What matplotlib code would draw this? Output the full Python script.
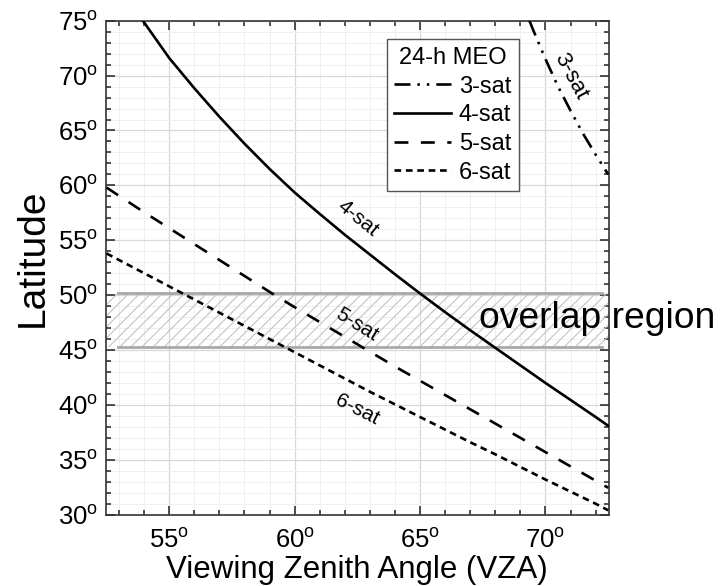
import matplotlib
matplotlib.use("Agg")
import matplotlib.pyplot as plt
from matplotlib.ticker import MultipleLocator, FixedLocator, FixedFormatter

plt.rcParams['font.family'] = ['Liberation Sans', 'DejaVu Sans']
plt.rcParams['mathtext.fontset'] = 'custom'
plt.rcParams['mathtext.rm'] = 'Liberation Sans'
plt.rcParams['lines.scale_dashes'] = False
plt.rcParams['hatch.linewidth'] = 0.8

# ---- data ----
vza_3sat = [69.36, 69.5, 70.0, 70.5, 71.0, 71.5, 72.0, 72.5]
lat_3sat = [75.0, 74.2, 71.5, 69.0, 66.8, 64.7, 62.8, 61.0]

vza_4sat = [53.95, 55, 56, 57, 58, 59, 60, 61, 62, 63, 64, 65, 66, 67, 68, 69, 70, 71, 72, 72.5]
lat_4sat = [75.0, 71.6, 68.85, 66.25, 63.8, 61.5, 59.35, 57.4, 55.5, 53.7, 51.9, 50.15,
            48.45, 46.8, 45.2, 43.6, 42.0, 40.45, 38.9, 38.1]

vza_5sat = [52.5, 53, 54, 55, 56, 57, 58, 59, 60, 61, 62, 63, 64, 65, 66, 67, 68, 69, 70, 71, 72, 72.5]
lat_5sat = [59.8, 59.05, 57.55, 56.1, 54.65, 53.2, 51.75, 50.3, 48.9, 47.55, 46.2, 44.85,
            43.5, 42.2, 40.9, 39.6, 38.3, 37.0, 35.7, 34.4, 33.1, 32.45]

vza_6sat = [52.5, 53, 54, 55, 56, 57, 58, 59, 60, 61, 62, 63, 64, 65, 66, 67, 68, 69, 70, 71, 72, 72.5]
lat_6sat = [53.8, 53.2, 52.0, 50.8, 49.6, 48.4, 47.2, 46.0, 44.8, 43.6, 42.4, 41.2,
            40.05, 38.9, 37.75, 36.6, 35.5, 34.35, 33.2, 32.1, 31.0, 30.4]

overlap_low = 45.3
overlap_high = 50.15
overlap_x = [52.95, 72.25]

xticks = [55, 60, 65, 70]
xtick_labels = ['55$^{\\mathrm{o}}$', '60$^{\\mathrm{o}}$', '65$^{\\mathrm{o}}$', '70$^{\\mathrm{o}}$']
yticks = [30, 35, 40, 45, 50, 55, 60, 65, 70, 75]
ytick_labels = [f'{v}$^{{\\mathrm{{o}}}}$' for v in yticks]

series_labels = ['3-sat', '4-sat', '5-sat', '6-sat']

# ---- figure ----
W, H = 726, 586
fig = plt.figure(figsize=(W / 100, H / 100), dpi=100)
ax = fig.add_axes([106 / W, 1 - 514.7 / H, 502.7 / W, 494 / H])
ax.set_xlim(52.48, 72.52)
ax.set_ylim(30, 75)

# grid
ax.xaxis.set_minor_locator(MultipleLocator(1))
ax.yaxis.set_minor_locator(MultipleLocator(1))
ax.set_axisbelow(True)
ax.grid(which='major', color='#d8d8d8', linewidth=0.9)
ax.grid(which='minor', color='#efefef', linewidth=0.7)

# overlap region
ax.fill_between([52.48, 72.52], overlap_low, overlap_high, facecolor='none',
                edgecolor='#c4c4c4', hatch='///', linewidth=0, zorder=1)
ax.plot(overlap_x, [overlap_high, overlap_high], color='#a9a9a9', lw=2.0, zorder=2)
ax.plot(overlap_x, [overlap_low, overlap_low], color='#a9a9a9', lw=2.0, zorder=2)

lw = 1.9
h3, = ax.plot(vza_3sat, lat_3sat, color='black', lw=lw, linestyle=(0, (11.5, 5, 1.8, 5, 1.8, 5)), zorder=3)
h4, = ax.plot(vza_4sat, lat_4sat, color='black', lw=lw, linestyle='-', zorder=3)
h5, = ax.plot(vza_5sat, lat_5sat, color='black', lw=lw, linestyle=(0, (10, 9)), zorder=3)
h6, = ax.plot(vza_6sat, lat_6sat, color='black', lw=lw, linestyle=(0, (4.8, 3.4)), zorder=3)

# curve labels
lab_kw = dict(fontsize=15, ha='center', va='center', color='black', zorder=5,
              rotation_mode='anchor')
ax.text(71.02, 69.9, series_labels[0], rotation=-62, **dict(lab_kw, fontsize=16))
ax.text(62.54, 57.0, series_labels[1], rotation=-39, **lab_kw)
ax.text(62.48, 47.28, series_labels[2], rotation=-32, **lab_kw)
ax.text(62.49, 39.54, series_labels[3], rotation=-27, **lab_kw)

ax.text(67.33, 47.0, 'overlap region', fontsize=26.8, ha='left', va='baseline',
        color='black', clip_on=False, zorder=6)

# ticks
ax.xaxis.set_major_locator(FixedLocator(xticks))
ax.xaxis.set_major_formatter(FixedFormatter(xtick_labels))
ax.yaxis.set_major_locator(FixedLocator(yticks))
ax.yaxis.set_major_formatter(FixedFormatter(ytick_labels))
ax.tick_params(which='both', direction='in', top=True, right=True, color='#222222', width=1.1)
ax.tick_params(which='major', length=6.5, labelsize=18.5)
ax.tick_params(axis='x', which='major', pad=9.5)
ax.tick_params(axis='y', which='major', pad=6)
ax.tick_params(which='minor', length=3.6)
for s in ax.spines.values():
    s.set_color('#333333')
    s.set_linewidth(1.2)

ax.set_xlabel('Viewing Zenith Angle (VZA)', fontsize=22.5)
ax.xaxis.label.set_va('baseline')
ax.xaxis.set_label_coords(0.5, (514.7 - 578.0) / 494)
ax.set_ylabel('Latitude', fontsize=28)
ax.yaxis.set_label_coords(-0.109, 0.52)

leg = ax.legend([h3, h4, h5, h6], series_labels, title='24-h MEO', loc='upper left',
                bbox_to_anchor=(386.7 / W, 1 - 39.3 / H), bbox_transform=fig.transFigure,
                fontsize=17, title_fontsize=17, handlelength=2.4, handletextpad=0.33,
                labelspacing=0.28, borderpad=0.33, borderaxespad=0, fancybox=False,
                framealpha=1, edgecolor='#555555')
leg.get_frame().set_linewidth(1.0)
leg.set_zorder(7)

fig.savefig('out.png', dpi=100)
